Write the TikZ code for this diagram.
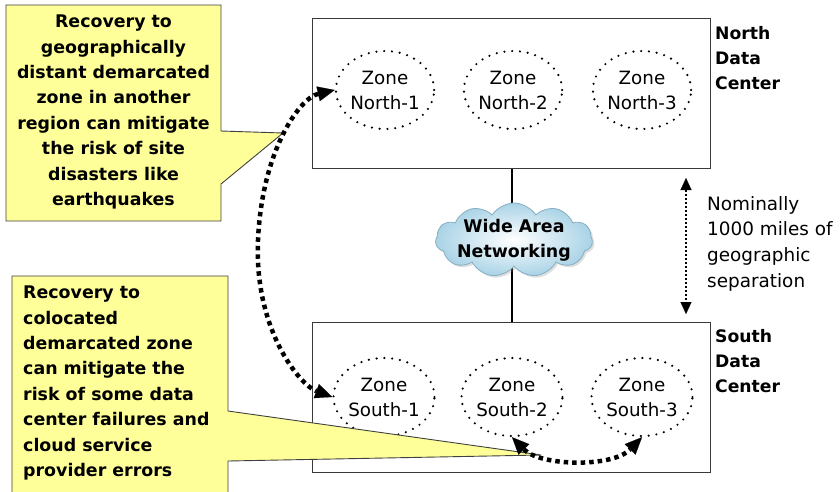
\documentclass[tikz,border=0pt]{standalone}
\usepackage{fontspec}
\setmainfont{DejaVu Sans}
\usetikzlibrary{shapes.geometric,shapes.symbols,arrows.meta,shadows}
\definecolor{noteyellow}{HTML}{FFFF99}
\definecolor{noteedge}{HTML}{404040}
\definecolor{boxedge}{HTML}{3A3A3A}
\definecolor{cloudedge}{HTML}{86AFC3}
\definecolor{cloudfill}{HTML}{A9D3E6}
\begin{document}
\begin{tikzpicture}[x=1pt,y=-1pt,
  centerbox/.style={rectangle,draw=boxedge,line width=1.3pt,anchor=north west,
    minimum width=398pt,minimum height=150pt,inner sep=0pt},
  zone/.style={ellipse,draw,line width=2.4pt,line cap=round,dash pattern=on 0pt off 7.8pt,
    minimum width=96pt,minimum height=78pt,inner sep=0pt,align=center,
    font=\fontsize{18.3}{25}\selectfont},
  boldlabel/.style={font=\fontsize{17.2}{25.2}\selectfont\bfseries,align=left,inner sep=0pt},
  plainlabel/.style={font=\fontsize{18.4}{25.7}\selectfont,align=left,inner sep=0pt},
  note/.style={fill=noteyellow,draw=noteedge,line width=0.9pt,line join=miter},
  notetext/.style={font=\fontsize{17.4}{25.4}\selectfont\bfseries,inner sep=0pt},
  failover/.style={line width=4.5pt,dash pattern=on 4.5pt off 4pt,
    {Triangle[length=17pt,width=15pt,line width=0.1pt]}-{Triangle[length=17pt,width=15pt,line width=0.1pt]}},
  span/.style={line width=2.4pt,dash pattern=on 2.4pt off 1.6pt,
    {Triangle[length=12pt,width=11pt,line width=0.1pt]}-{Triangle[length=12pt,width=11pt,line width=0.1pt]}},
]
\useasboundingbox (0,0) rectangle (840,491);
\clip (0,0) rectangle (840,491);
\fill[white] (0,0) rectangle (840,491);

% data center boxes
\node[centerbox] (north) at (312,18) {};
\node[centerbox] (south) at (312,322) {};

% wide area link between the two centers
\draw[line width=1.8pt] (north.south) -- (south.north);
\node[cloud,cloud puffs=11,cloud puff arc=115,aspect=2.1,minimum width=157pt,minimum height=74pt,
  draw=cloudedge,line width=0.8pt,inner color=white,outer color=cloudfill,
  drop shadow={opacity=0.25,shadow xshift=2pt,shadow yshift=-2pt}] (wan) at (514,240) {};
\node[notetext,align=center] (wantext) at (wan) {Wide Area\\Networking};

% availability zones
\node[zone] (n1) at (385,90) {Zone\\North-1};
\node[zone] (n2) at (513,90) {Zone\\North-2};
\node[zone] (n3) at (642,90) {Zone\\North-3};
\node[zone] (s1) at (384,397) {Zone\\South-1};
\node[zone] (s2) at (512,397) {Zone\\South-2};
\node[zone] (s3) at (642,397) {Zone\\South-3};

% callouts
\draw[note] (6,5) -- (221,5) -- (221,131) -- (283,133) -- (221,184) -- (221,221) -- (6,221) -- cycle;
\node[notetext,align=center] (noteA) at (113.5,112)
  {Recovery to\\geographically\\distant demarcated\\zone in another\\region can mitigate\\the risk of site\\disasters like\\earthquakes};
\draw[note] (12,276) -- (228,276) -- (228,411) -- (541,455) -- (228,461) -- (228,500) -- (12,500) -- cycle;
\node[notetext,align=left,anchor=west] (noteB) at (23,383)
  {Recovery to\\colocated\\demarcated zone\\can mitigate the\\risk of some data\\center failures and\\cloud service\\provider errors};

% recovery paths
\draw[failover] (n1.west) .. controls (300,98) and (262,150) .. (258,240)
  .. controls (254,330) and (300,385) .. (s1.west);
\draw[failover] (s2.south) .. controls (540,466) and (612,468) .. (s3.south);

% separation marker
\coordinate (gapTop) at (686,178);
\coordinate (gapBot) at (686,314);
\draw[span] (gapTop) -- (gapBot);

% labels
\node[boldlabel,anchor=west] (ndc) at (715,58) {North\\Data\\Center};
\node[boldlabel,anchor=west] (sdc) at (715,361) {South\\Data\\Center};
\node[plainlabel,anchor=west] (sep) at (707,243.5) {Nominally\\1000 miles of\\geographic\\separation};
\end{tikzpicture}
\end{document}
